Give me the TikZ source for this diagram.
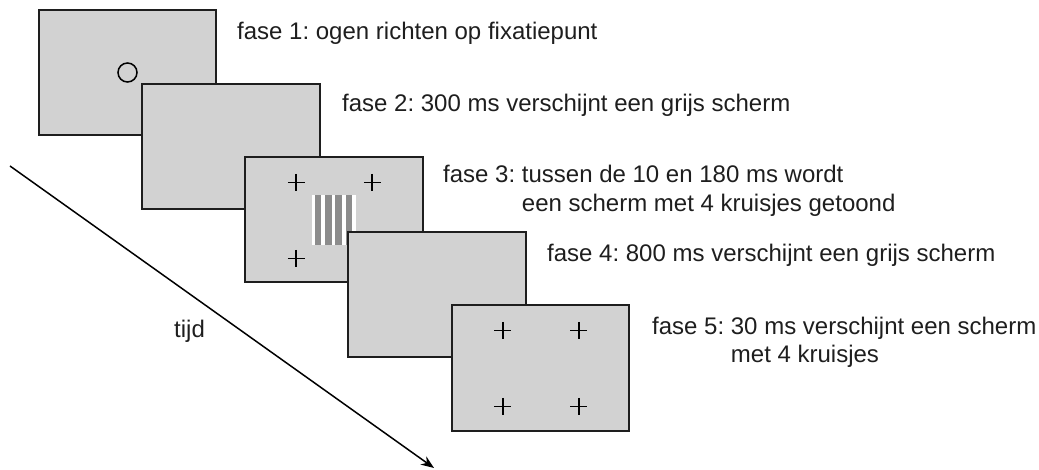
\documentclass[tikz,border=0pt]{standalone}
\usepackage{fontspec}
\setmainfont{Liberation Sans}
\usetikzlibrary{arrows.meta}
\definecolor{screenfill}{RGB}{210,210,210}
\definecolor{bargray}{RGB}{140,140,140}
\definecolor{inkgray}{RGB}{30,30,30}
\frenchspacing
\begin{document}
\begin{tikzpicture}[x=1bp,y=-1bp,
  screen/.style={draw=inkgray, line width=2bp, fill=screenfill,
    minimum width=177.5bp, minimum height=125bp, inner sep=0pt, outer sep=0pt},
  phasetext/.style={anchor=base west, inner sep=0pt,
    font=\fontsize{24bp}{28bp}\selectfont, text=inkgray},
  crossstroke/.style={line width=1.7bp, draw=black},
  crossmark/.pic={\draw[crossstroke] (-8.5,0) -- (8.5,0) (0,-8.5) -- (0,8.5);}
]
\useasboundingbox (0,0) rectangle (1039,470);

% fixation screen
\node[screen] (s1) at (127.5,72.5) {};
\node[draw=black, circle, line width=1.5bp, minimum size=19bp, inner sep=0pt] (fix) at (s1.center) {};

% grey screen
\node[screen] (s2) at (231,146.5) {};

% crosses with grating
\node[screen] (s3) at (334,220) {};
\foreach \dx/\dy in {51/25,127/25,51/101}
  \pic at ([shift={(\dx,\dy)}]s3.north west) {crossmark};
\node[fill=white, minimum width=44bp, minimum height=50bp, inner sep=0pt] (grating) at (334,220) {};
\foreach \k in {0,1,2,3}
  \fill[bargray] ([xshift={(3+10.3*\k)*1bp}]grating.north west) rectangle ++(6.5,50);

% grey screen
\node[screen] (s4) at (437,294.5) {};

% four crosses
\node[screen] (s5) at (540.5,368) {};
\foreach \dx/\dy in {51/25,127/25,51/101,127/101}
  \pic at ([shift={(\dx,\dy)}]s5.north west) {crossmark};

% phase descriptions
\node[phasetext] (f1) at (237,40) {fase 1: ogen richten op fixatiepunt};
\node[phasetext] (f2) at (342,112) {fase 2: 300 ms verschijnt een grijs scherm};
\node[phasetext] (f3) at (443,183) {fase 3: tussen de 10 en 180 ms wordt};
\node[phasetext] (f3b) at (443,212) {\phantom{fase 3: }een scherm met 4 kruisjes getoond};
\node[phasetext] (f4) at (547,262) {fase 4: 800 ms verschijnt een grijs scherm};
\node[phasetext] (f5) at (652,335) {fase 5: 30 ms verschijnt een scherm};
\node[phasetext] (f5b) at (652,363) {\phantom{fase 5: }met 4 kruisjes};

% time axis
\coordinate (t0) at (10,166);
\coordinate (t1) at (434,468);
\draw[line width=1.5bp, draw=black, -{Stealth[length=13bp,width=10bp]}] (t0) -- (t1);
\node[phasetext] (tijd) at (174,338) {tijd};
\end{tikzpicture}
\end{document}
